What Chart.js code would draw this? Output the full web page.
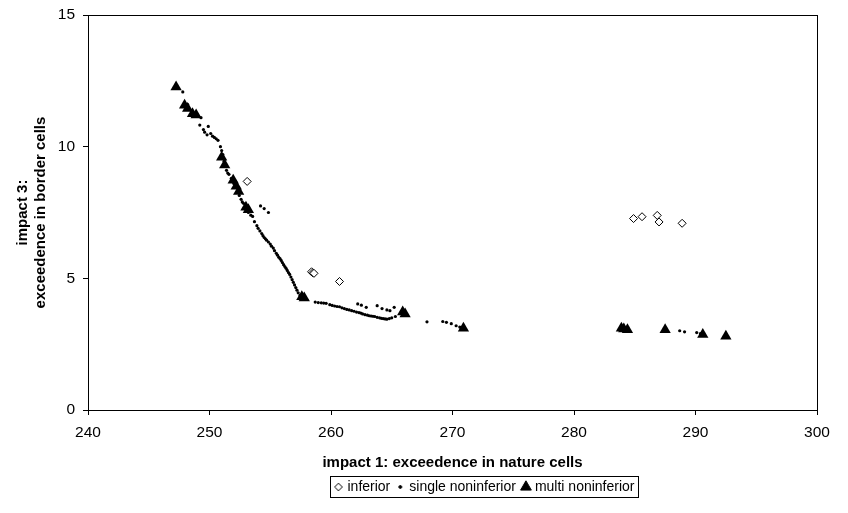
<!DOCTYPE html>
<html>
<head>
<meta charset="utf-8">
<script src="https://cdn.jsdelivr.net/npm/chart.js@4/dist/chart.umd.min.js"></script>
<style>
  html, body { margin: 0; padding: 0; background: #fff; }
  #wrap { width: 848px; height: 513px; }
</style>
</head>
<body>
<div id="wrap"><canvas id="chart" width="848" height="513"></canvas></div>
<script>
// inferior solutions (open diamonds)
const inferiorX = [253.1, 258.4, 258.5, 258.6, 260.7, 284.9, 285.6, 286.85, 287.0, 288.9];
const inferiorY = [8.68, 5.25, 5.21, 5.19, 4.88, 7.27, 7.34, 7.39, 7.14, 7.09];

// single noninferior (small dots)
const singleX = [247.8, 248.2, 248.5, 249.0, 249.3, 249.2, 249.5, 249.6, 249.8, 249.9, 250.1, 250.25, 250.4,
  250.55, 250.7, 250.9, 251.0, 251.1, 251.2, 251.4, 251.5, 251.6, 251.8, 252.0, 252.1, 252.3, 252.45,
  252.6, 252.7, 252.8, 253.0, 253.2, 253.4, 253.55, 253.7, 253.9, 254.0, 254.15, 254.3, 254.4, 254.5,
  254.6, 254.7, 254.85, 254.2, 254.5, 254.85, 255.0, 255.1, 255.25, 255.35, 255.5, 255.6, 255.7, 255.8,
  255.9, 256.0, 256.1, 256.2, 256.3, 256.4, 256.5, 256.6, 256.7, 256.8, 256.9, 257.0, 257.1, 257.2,
  257.3, 257.45, 257.7, 258.0, 258.7, 258.95, 259.2, 259.4, 259.6, 259.9, 260.1, 260.3, 260.5, 260.7,
  260.9, 261.1, 261.3, 261.5, 261.7, 261.9, 262.1, 262.3, 262.45, 262.6, 262.8, 263.0, 263.15, 263.3,
  263.45, 263.6, 263.8, 264.0, 264.15, 264.3, 264.45, 264.6, 264.8, 265.0, 265.3, 262.2, 262.5, 262.9,
  263.8, 264.2, 264.6, 264.85, 265.2, 267.9, 269.2, 269.5, 269.9, 270.3, 270.6, 288.7, 289.1, 290.1, 290.4];
const singleY = [12.08, 11.6, 11.35, 11.15, 11.1, 10.82, 10.65, 10.55, 10.45, 10.77, 10.5, 10.4, 10.35,
  10.3, 10.24, 10.0, 9.85, 9.7, 9.45, 9.1, 9.0, 8.95, 8.8, 8.6, 8.45, 8.3, 8.15,
  8.0, 7.9, 7.85, 7.6, 7.5, 7.4, 7.35, 7.15, 7.0, 6.9, 6.8, 6.7, 6.62, 6.55,
  6.5, 6.45, 6.38, 7.75, 7.65, 7.5, 6.3, 6.22, 6.15, 6.05, 5.95, 5.88, 5.8, 5.75,
  5.68, 5.6, 5.52, 5.45, 5.38, 5.3, 5.22, 5.15, 5.05, 4.95, 4.85, 4.75, 4.65, 4.55,
  4.45, 4.35, 4.25, 4.2, 4.1, 4.08, 4.07, 4.06, 4.05, 4.0, 3.97, 3.95, 3.93, 3.92,
  3.88, 3.85, 3.82, 3.8, 3.77, 3.75, 3.72, 3.7, 3.68, 3.65, 3.62, 3.6, 3.58, 3.57,
  3.56, 3.55, 3.52, 3.5, 3.48, 3.47, 3.46, 3.45, 3.47, 3.5, 3.55, 4.03, 3.98, 3.9,
  3.96, 3.85, 3.8, 3.77, 3.9, 3.35, 3.36, 3.33, 3.28, 3.2, 3.15, 3.01, 2.97, 2.94, 2.9];

// multi noninferior (filled triangles)
const multiX = [247.25, 247.95, 248.2, 248.6, 248.9, 251.0, 251.25, 251.95, 252.2, 252.4, 253.0, 253.2,
  257.6, 257.8, 265.9, 266.1, 270.9, 283.9, 284.1, 284.4, 287.5, 290.6, 292.5];
const multiY = [12.27, 11.57, 11.45, 11.25, 11.2, 9.6, 9.3, 8.72, 8.5, 8.3, 7.7, 7.6,
  4.3, 4.25, 3.72, 3.65, 3.1, 3.1, 3.08, 3.05, 3.05, 2.87, 2.8];

const xTicks = [240, 250, 260, 270, 280, 290, 300];
const yTicks = [0, 5, 10, 15];

const seriesNames = ["inferior", "single noninferior", "multi noninferior"];

function toPoints(xs, ys) {
  return xs.map((x, i) => ({ x: x, y: ys[i] }));
}

// small marker images for the legend, drawn with Chart.js helpers
function legendMarker(style, radius, fill) {
  const c = document.createElement("canvas");
  c.width = 14;
  c.height = 14;
  const ctx = c.getContext("2d");
  ctx.fillStyle = fill;
  ctx.strokeStyle = "#000";
  ctx.lineWidth = 1;
  Chart.helpers.drawPoint(ctx, { pointStyle: style, radius: radius, rotation: 0, borderWidth: 1 }, 7, 7);
  return c;
}

const legendStyles = [
  legendMarker("rectRot", 3.8, "#fff"),
  legendMarker("circle", 1.4, "#000"),
  legendMarker("triangle", 6.2, "#000")
];

// legend sits a bit right of centre in the original
// (hit boxes get rebuilt by the legend plugin's afterUpdate)
const legendShift = {
  id: "legendShift",
  afterLayout(chart) {
    const lg = chart.legend;
    lg.left += 70;
    lg.right += 70;
  }
};

// frame round plot area and legend
const framePlugin = {
  id: "frame",
  afterDraw(chart) {
    const ctx = chart.ctx;
    const a = chart.chartArea;
    ctx.save();
    ctx.strokeStyle = "#000";
    ctx.lineWidth = 1;
    ctx.strokeRect(Math.round(a.left) + 0.5, Math.round(a.top) + 0.5,
      Math.round(a.right - a.left), Math.round(a.bottom - a.top));
    const boxes = chart.legend.legendHitBoxes;
    if (boxes && boxes.length) {
      const l = Math.min(...boxes.map((b) => b.left)) - 6;
      const r = Math.max(...boxes.map((b) => b.left + b.width)) + 4;
      const t = Math.min(...boxes.map((b) => b.top)) - 4;
      const bt = Math.max(...boxes.map((b) => b.top + b.height)) + 3;
      ctx.strokeRect(Math.round(l) + 0.5, Math.round(t) + 0.5, Math.round(r - l), Math.round(bt - t));
    }
    ctx.restore();
  }
};

Chart.defaults.font.family = "'Liberation Sans', Arial, sans-serif";
Chart.defaults.color = "#000";

new Chart(document.getElementById("chart"), {
  type: "scatter",
  data: {
    datasets: [
      {
        label: seriesNames[0],
        data: toPoints(inferiorX, inferiorY),
        pointStyle: "rectRot",
        pointRadius: 4,
        backgroundColor: "#fff",
        borderColor: "#000",
        borderWidth: 1
      },
      {
        label: seriesNames[1],
        data: toPoints(singleX, singleY),
        pointStyle: "circle",
        pointRadius: 1.6,
        backgroundColor: "#000",
        borderColor: "#000",
        borderWidth: 0
      },
      {
        label: seriesNames[2],
        data: toPoints(multiX, multiY),
        pointStyle: "triangle",
        pointRadius: 6.5,
        backgroundColor: "#000",
        borderColor: "#000",
        borderWidth: 0
      }
    ]
  },
  options: {
    responsive: false,
    animation: false,
    layout: { padding: { top: 15, right: 31, left: 14, bottom: 9 } },
    plugins: {
      tooltip: { enabled: false },
      legend: {
        position: "bottom",
        labels: {
          usePointStyle: true,
          boxWidth: 4,
          boxHeight: 4,
          padding: 8,
          font: { size: 14 },
          generateLabels(chart) {
            return seriesNames.map((name, i) => ({
              text: name,
              pointStyle: legendStyles[i],
              fillStyle: "#000",
              strokeStyle: "#000",
              lineWidth: 0,
              hidden: false,
              datasetIndex: i
            }));
          }
        }
      }
    },
    scales: {
      x: {
        type: "linear",
        min: 240,
        max: 300,
        afterFit(scale) { scale.height = 62; },
        afterBuildTicks(scale) { scale.ticks = xTicks.map((v) => ({ value: v })); },
        ticks: { font: { size: 15.5 }, padding: 8 },
        grid: { drawOnChartArea: false, drawTicks: true, tickLength: 5, tickColor: "#000" },
        border: { display: true, color: "#000" },
        title: {
          display: true,
          text: "impact 1: exceedence in nature cells",
          font: { size: 15, weight: "bold" },
          padding: { top: 6, bottom: 0 }
        }
      },
      y: {
        type: "linear",
        min: 0,
        max: 15,
        afterFit(scale) {
          scale.width = 74;
          scale.paddingTop = 0;
          scale.paddingBottom = 0;
        },
        afterBuildTicks(scale) { scale.ticks = yTicks.map((v) => ({ value: v })); },
        ticks: { font: { size: 15.5 }, padding: 8 },
        grid: { drawOnChartArea: false, drawTicks: true, tickLength: 5, tickColor: "#000" },
        border: { display: true, color: "#000" },
        title: {
          display: true,
          text: ["impact 3:", "exceedence in border cells"],
          font: { size: 15, weight: "bold" },
          padding: { top: 0, bottom: 0 }
        }
      }
    }
  },
  plugins: [legendShift, framePlugin]
});
</script>
</body>
</html>
